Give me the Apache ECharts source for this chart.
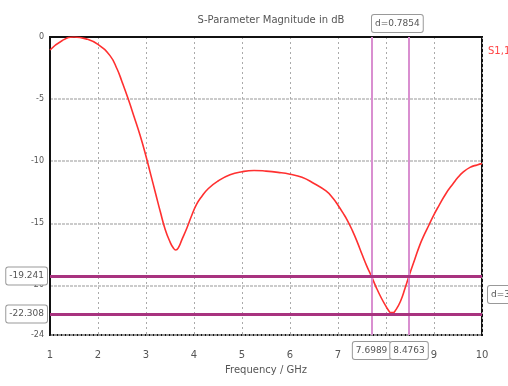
<!DOCTYPE html>
<html>
<head>
<meta charset="utf-8">
<script src="https://cdn.jsdelivr.net/npm/echarts@6/dist/echarts.min.js"></script>
<style>
  html, body { margin: 0; padding: 0; background: #fff; }
  #chart { width: 508px; height: 386px; }
</style>
</head>
<body>
<div id="chart"></div>
<script>
// S1,1 magnitude (dB)
const freqs = [1, 1.25, 1.5, 1.75, 2, 2.25, 2.4, 2.5, 2.63, 2.75, 2.875, 3, 3.1, 3.2, 3.3, 3.4, 3.5, 3.57, 3.62, 3.67, 3.75, 3.85, 3.95, 4.05, 4.15, 4.3, 4.5, 4.75, 5, 5.25, 5.5, 5.75, 6, 6.25, 6.5, 6.75, 6.9, 7, 7.1, 7.2, 7.3, 7.4, 7.5, 7.6, 7.7, 7.8, 7.9, 8, 8.05, 8.1, 8.15, 8.2, 8.3, 8.4, 8.48, 8.6, 8.7, 8.8, 8.9, 9, 9.1, 9.25, 9.4, 9.5, 9.6, 9.75, 9.9, 10];
const s11 = [-1.05, -0.3, 0, -0.15, -0.6, -1.5, -2.6, -3.6, -5, -6.4, -7.9, -9.6, -11.1, -12.6, -14.1, -15.5, -16.5, -17.0, -17.15, -17.0, -16.3, -15.4, -14.4, -13.5, -12.9, -12.2, -11.6, -11.1, -10.85, -10.75, -10.8, -10.9, -11.05, -11.3, -11.8, -12.4, -13.0, -13.55, -14.15, -14.8, -15.6, -16.5, -17.5, -18.45, -19.3, -20.2, -21.0, -21.7, -22.0, -22.2, -22.2, -22.0, -21.3, -20.2, -19.24, -17.9, -16.8, -15.9, -15.1, -14.3, -13.6, -12.6, -11.8, -11.3, -10.9, -10.5, -10.3, -10.2];
const markerX = [7.6989, 8.4763];
const markerY = [-19.241, -22.308];
const markerXText = ['7.6989', '8.4763'];
const markerYText = ['-19.241', '-22.308'];

const font = "'Liberation Sans Narrow', 'DejaVu Sans', sans-serif";
const boxLabel = {
    color: '#555',
    fontSize: 9,
    fontFamily: font,
    backgroundColor: '#fff',
    borderColor: '#999',
    borderWidth: 1,
    borderRadius: 2,
    padding: [4, 3]
};

var myChart = echarts.init(document.getElementById('chart'));
let option = {
    animation: false,
    backgroundColor: '#fff',
    title: {
        text: 'S-Parameter Magnitude in dB',
        left: 266,
        top: 10,
        textAlign: 'center',
        textStyle: { fontSize: 10, fontWeight: 'normal', color: '#555', fontFamily: font }
    },
    grid: {
        left: 50, right: 26, top: 37, bottom: 51,
        show: true,
        borderColor: '#111',
        borderWidth: 2
    },
    xAxis: {
        type: 'value',
        min: 1, max: 10, interval: 1,
        name: 'Frequency / GHz',
        nameLocation: 'middle',
        nameGap: 30,
        nameTextStyle: { fontSize: 10, color: '#555', fontFamily: font },
        axisLine: { lineStyle: { color: '#111', width: 2 } },
        axisTick: { show: false },
        axisLabel: { fontSize: 10, color: '#555', fontFamily: font, margin: 15 },
        splitLine: { show: true, lineStyle: { type: [2, 3], color: '#aaa' } }
    },
    yAxis: {
        type: 'value',
        min: -24, max: 0,
        axisLine: { lineStyle: { color: '#111', width: 2 } },
        axisTick: { show: false },
        axisLabel: { fontSize: 8, color: '#555', fontFamily: font, margin: 6 },
        splitLine: { show: true, lineStyle: { type: [3, 1], color: '#bbb', width: 1.5 } }
    },
    graphic: [
        { type: 'text', left: 488, top: 46, style: { text: 'S1,1', fill: '#ff4444', fontSize: 10, fontFamily: font } },
        { type: 'text', left: 371, top: 14, style: {
            text: 'd=0.7854', fill: '#555', fontSize: 9, fontFamily: font, backgroundColor: '#fff',
            borderColor: '#999', borderWidth: 1, borderRadius: 2, padding: [4, 3] } },
        { type: 'text', left: 487, top: 285, style: {
            text: 'd=3.067', fill: '#555', fontSize: 9, fontFamily: font, backgroundColor: '#fff',
            borderColor: '#999', borderWidth: 1, borderRadius: 2, padding: [4, 3] } }
    ],
    series: [
        {
            name: 'S1,1',
            type: 'line',
            data: freqs.map((f, i) => [f, s11[i]]),
            smooth: 0.5,
            showSymbol: false,
            lineStyle: { color: '#ff3030', width: 1.6 },
            z: 3
        },
        {
            type: 'line',
            data: [],
            markLine: {
                silent: true,
                symbol: 'none',
                data: markerX.map((x, i) => ({
                    xAxis: x,
                    lineStyle: { type: 'solid', color: '#d98fd0', width: 2 },
                    label: Object.assign({ show: true, position: 'start', distance: 7, formatter: markerXText[i] }, boxLabel)
                })).concat(markerY.map((y, i) => ({
                    yAxis: y,
                    lineStyle: { type: 'solid', color: '#a8337f', width: 3 },
                    label: Object.assign({ show: true, position: 'start', distance: 3, formatter: markerYText[i] }, boxLabel)
                })))
            },
            z: 2
        }
    ]
};
option && myChart.setOption(option);
</script>
</body>
</html>
